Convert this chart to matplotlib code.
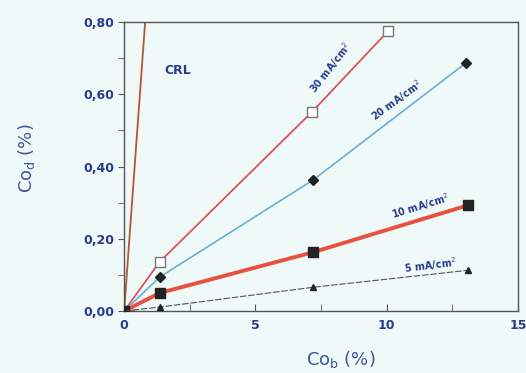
import matplotlib
matplotlib.use('Agg')
import matplotlib.pyplot as plt
from matplotlib.ticker import MultipleLocator, FuncFormatter

# data (Co_b %, Co_d %)
x30 = [0, 1.35, 7.15, 10.05]
y30 = [0, 0.136, 0.551, 0.775]
x20 = [0, 1.35, 7.2, 13.0]
y20 = [0, 0.094, 0.363, 0.686]
x10 = [0, 1.35, 7.2, 13.1]
y10 = [0, 0.05, 0.163, 0.293]
x5 = [0, 1.35, 7.2, 13.1]
y5 = [0, 0.011, 0.066, 0.113]
x_crl = [0, 1.0]
y_crl = [0, 1.0]

bg = '#eff9f8'
txt = '#2b3a8c'
lab = '#3f55a0'

fig = plt.figure(figsize=(5.26, 3.73), dpi=100, facecolor=bg)
ax = fig.add_axes([0.236, 0.166, 0.749, 0.775])
ax.set_facecolor(bg)

ax.plot(x_crl, y_crl, color='#b5553a', lw=1.3, zorder=2)
ax.plot(x30, y30, color='#e0505a', lw=1.3, marker='s', ms=7,
        mfc='white', mec='#777777', mew=1.0, zorder=3)
ax.plot(x20, y20, color='#6ab0d0', lw=1.2, marker='D', ms=5,
        mfc='#222222', mec='#222222', zorder=3)
ax.plot(x10, y10, color='#e85040', lw=2.8, marker='s', ms=7,
        mfc='#222222', mec='#222222', zorder=3)
ax.plot(x5, y5, color='#555555', lw=0.8, ls=(0, (6, 1.5)), marker='^', ms=4.5,
        mfc='#222222', mec='#222222', zorder=3)
ax.plot([0, 0.35], [0, 0], color='#e0505a', lw=2.5, zorder=2)

ax.set_xlim(0, 15)
ax.set_ylim(0, 0.8)
ax.xaxis.set_major_locator(MultipleLocator(5))
ax.xaxis.set_minor_locator(MultipleLocator(2.5))
ax.yaxis.set_major_locator(MultipleLocator(0.2))
ax.yaxis.set_minor_locator(MultipleLocator(0.1))
ax.yaxis.set_major_formatter(FuncFormatter(lambda v, p: ('%.2f' % v).replace('.', ',')))
ax.xaxis.set_major_formatter(FuncFormatter(lambda v, p: '%d' % v))

ax.tick_params(axis='x', which='both', direction='in', length=5, color='#555555',
               labelsize=9, labelcolor=txt, pad=6)
ax.tick_params(axis='y', which='both', direction='out', length=4, color='#555555',
               labelsize=9, labelcolor=txt, pad=3)
for t in ax.get_xticklabels() + ax.get_yticklabels():
    t.set_fontweight('bold')
for s in ax.spines.values():
    s.set_color('#555555')
    s.set_linewidth(1.0)

ax.text(1.55, 0.667, 'CRL', color=txt, fontsize=9, fontweight='bold', va='center')
ax.text(7.85, 0.672, '30 mA/cm$^2$', color=txt, fontsize=7, fontweight='bold',
        rotation=52, ha='center', va='center')
ax.text(10.4, 0.584, '20 mA/cm$^2$', color=txt, fontsize=7, fontweight='bold',
        rotation=36, ha='center', va='center')
ax.text(11.3, 0.29, '10 mA/cm$^2$', color=txt, fontsize=7, fontweight='bold',
        rotation=17, ha='center', va='center')
ax.text(11.65, 0.127, '5 mA/cm$^2$', color=txt, fontsize=7, fontweight='bold',
        rotation=7, ha='center', va='center')

ax.set_xlabel('Co$_\\mathregular{b}$ (%)', color=lab, fontsize=13)
ax.set_ylabel('Co$_\\mathregular{d}$ (%)', color=lab, fontsize=13)
ax.xaxis.set_label_coords(0.55, -0.13)
ax.yaxis.set_label_coords(-0.22, 0.53)

fig.savefig('out.png', dpi=100, facecolor=bg)
